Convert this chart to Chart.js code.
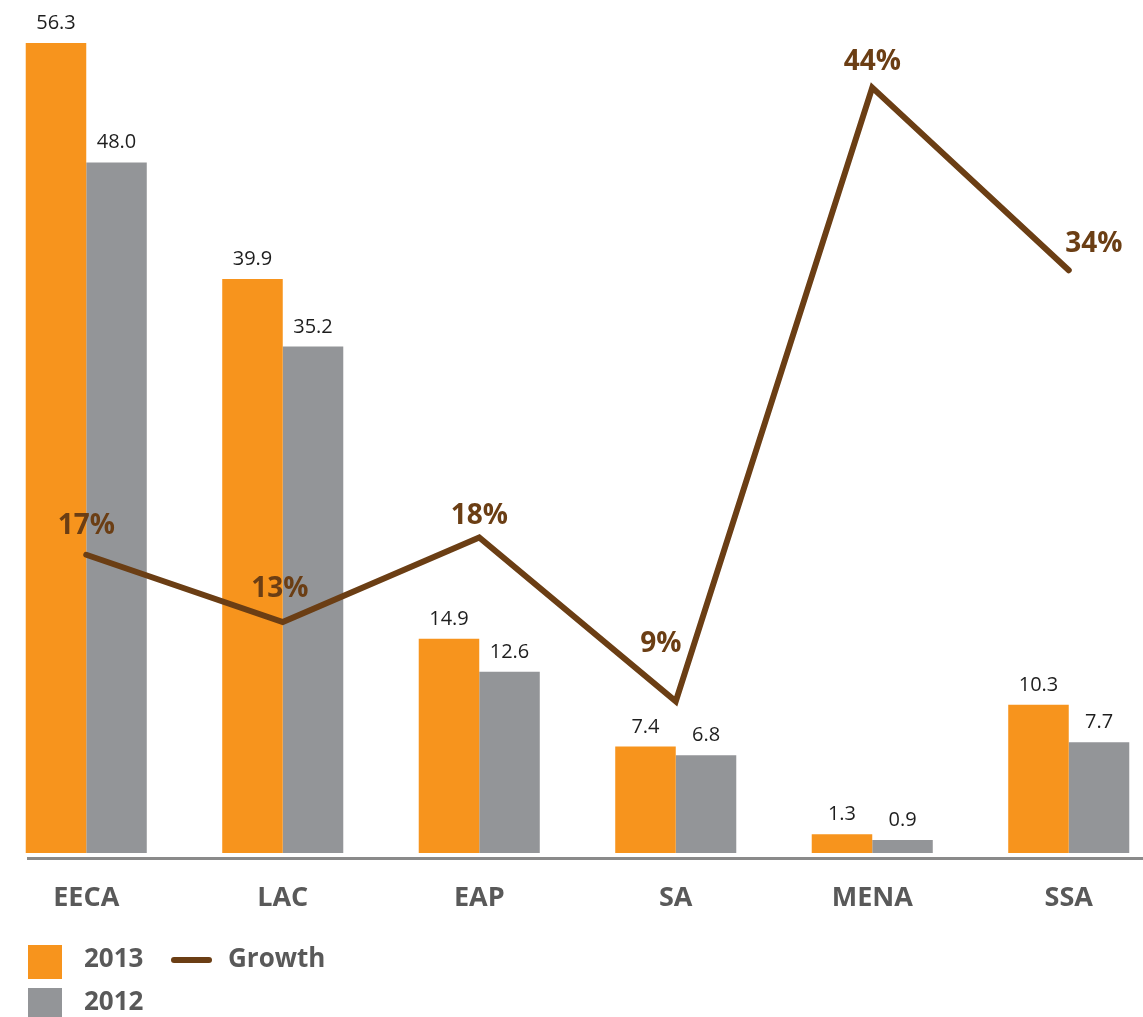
<!DOCTYPE html>
<html>
<head>
<meta charset="utf-8">
<script src="https://cdn.jsdelivr.net/npm/chart.js@4.4.1/dist/chart.umd.min.js"></script>
<style>
  html, body { margin: 0; padding: 0; background: #fff; overflow: hidden; }
  body { width: 1143px; height: 1017px; position: relative; font-family: "Open Sans", sans-serif; }
  #wrap { position: absolute; left: -12px; top: 0; width: 1179px; height: 1017px; }
  .sw { position: absolute; left: 28px; width: 34px; height: 34px; }
  .lt { position: absolute; font-weight: bold; font-size: 26px; color: #595959; line-height: 1; }
  .ln { position: absolute; left: 171px; top: 957px; width: 41px; height: 6px; border-radius: 3px; background: #6B3E14; }
</style>
</head>
<body>
<div id="wrap"><canvas id="c"></canvas></div>

<div class="sw" style="top:945px;background:#F7941D"></div>
<div class="lt" style="left:84px;top:944px">2013</div>
<div class="ln"></div>
<div class="lt" style="left:228px;top:944px">Growth</div>
<div class="sw" style="top:988px;height:34px;background:#939598"></div>
<div class="lt" style="left:84px;top:987px">2012</div>

<script>
// ====== DATA ======
const regions   = ['EECA', 'LAC', 'EAP', 'SA', 'MENA', 'SSA'];
const vals2013  = [56.3, 39.9, 14.9, 7.4, 1.3, 10.3];
const vals2012  = [48.0, 35.2, 12.6, 6.8, 0.9, 7.7];
const growth    = [17.3, 13.4, 18.3, 8.8, 44.4, 33.8];
const growthLbl = ['17%', '13%', '18%', '9%', '44%', '34%'];

// ====== COLORS ======
const ORANGE = '#F7941D';
const GREY   = '#939598';
const BROWN  = '#6B3E14';

// label nudges for the growth line (dx, dy from the point)
const growthNudge = [[0, -21], [-3, -25], [0, -14], [-15, -49], [0, -18], [25, -18]];

const labelsPlugin = {
  id: 'labels',
  afterDatasetsDraw(chart) {
    const ctx = chart.ctx;
    const area = chart.chartArea;
    ctx.save();

    // axis line
    ctx.strokeStyle = '#8a8a8a';
    ctx.lineWidth = 3;
    ctx.beginPath();
    ctx.moveTo(39, area.bottom + 5.5);
    ctx.lineTo(chart.width, area.bottom + 5.5);
    ctx.stroke();

    // bar value labels
    ctx.fillStyle = '#1e1e1e';
    ctx.font = '20px "Open Sans"';
    ctx.textAlign = 'center';
    ctx.textBaseline = 'alphabetic';
    [1, 2].forEach(di => {
      const meta = chart.getDatasetMeta(di);
      const data = chart.data.datasets[di].data;
      meta.data.forEach((bar, i) => {
        ctx.fillText(data[i].toFixed(1), bar.x, bar.y - 14);
      });
    });

    // growth labels
    ctx.fillStyle = BROWN;
    ctx.font = 'bold 28px "Open Sans"';
    const lm = chart.getDatasetMeta(0);
    lm.data.forEach((pt, i) => {
      const [dx, dy] = growthNudge[i];
      ctx.fillText(growthLbl[i], pt.x + dx, pt.y + dy);
    });

    // category labels
    ctx.fillStyle = '#595959';
    ctx.font = 'bold 27px "Open Sans"';
    ctx.textBaseline = 'middle';
    const xs = chart.scales.x;
    regions.forEach((r, i) => {
      ctx.fillText(r, xs.getPixelForValue(i), 898);
    });
    ctx.restore();
  }
};

new Chart(document.getElementById('c'), {
  data: {
    labels: regions,
    datasets: [
      { type: 'line', label: 'Growth', data: growth, yAxisID: 'y1',
        borderColor: BROWN, borderWidth: 6, pointRadius: 0,
        borderCapStyle: 'round', borderJoinStyle: 'miter', tension: 0 },
      { type: 'bar', label: '2013', data: vals2013, yAxisID: 'y',
        backgroundColor: ORANGE, categoryPercentage: 0.616, barPercentage: 1 },
      { type: 'bar', label: '2012', data: vals2012, yAxisID: 'y',
        backgroundColor: GREY, categoryPercentage: 0.616, barPercentage: 1 }
    ]
  },
  options: {
    responsive: true,
    maintainAspectRatio: false,
    animation: false,
    layout: { padding: { top: 10, bottom: 164, left: 0, right: 0 } },
    plugins: { legend: { display: false }, tooltip: { enabled: false } },
    scales: {
      x: { display: false },
      y: { display: false, min: 0, max: 58.6 },
      y1: { display: false, min: 0, max: 48.9 }
    }
  },
  plugins: [labelsPlugin]
});
</script>
</body>
</html>
